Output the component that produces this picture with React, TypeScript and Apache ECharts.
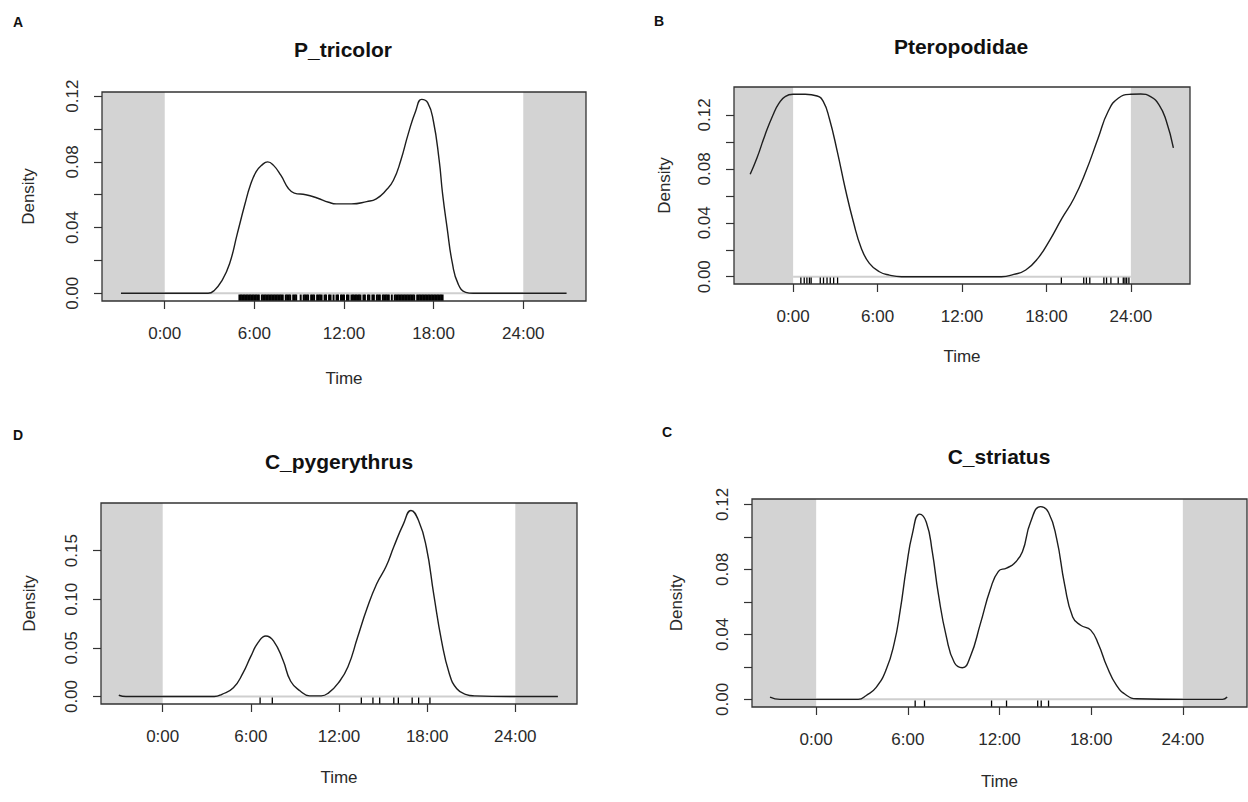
import React, { useEffect, useRef } from "react";
import * as echarts from "echarts";

const FONT = '"Liberation Sans", Arial, Helvetica, sans-serif';

// ---- data ----
const hourTicks = [0, 6, 12, 18, 24];
const nightBands = [[-12, 0], [24, 36]];
const baseline = [[0, 0], [24, 0]];

const aHours = [-2.93, -1, 1, 2.9, 3.3, 3.83, 4.34, 4.85, 5.36, 5.74, 6.12, 6.5, 6.89, 7.27, 7.78, 8.29, 8.67, 9.44, 10.2, 10.97, 11.48, 12.5, 13.52, 14.16, 14.8, 15.3, 15.8, 16.3, 16.8, 17.2, 17.6, 17.98, 18.37, 18.6, 18.9, 19.26, 19.64, 20.15, 20.66, 23, 26.9];
const aDensity = [0, 0, 0, 0, 0.0016, 0.0077, 0.018, 0.036, 0.054, 0.066, 0.074, 0.078, 0.080, 0.078, 0.0717, 0.0636, 0.061, 0.060, 0.058, 0.0554, 0.0544, 0.0544, 0.0558, 0.0575, 0.0625, 0.0686, 0.0808, 0.097, 0.111, 0.118, 0.116, 0.105, 0.081, 0.0605, 0.040, 0.018, 0.0057, 0.0006, 0, 0, 0];
const aRug = [5.0, 5.1, 5.2, 5.3, 5.4, 5.5, 5.6, 5.7, 5.8, 5.9, 6.0, 6.1, 6.2, 6.3, 6.5, 6.6, 6.7, 6.8, 6.9, 7.0, 7.1, 7.2, 7.3, 7.4, 7.5, 7.6, 7.7, 7.8, 7.9, 8.1, 8.2, 8.3, 8.4, 8.6, 8.7, 8.8, 9.1, 9.3, 9.4, 9.5, 9.6, 9.8, 9.9, 10.0, 10.2, 10.3, 10.4, 10.5, 10.7, 10.8, 11.0, 11.1, 11.3, 11.5, 11.6, 11.8, 11.9, 12.0, 12.2, 12.3, 12.5, 12.6, 12.7, 12.8, 12.9, 13.0, 13.1, 13.3, 13.4, 13.6, 13.7, 13.9, 14.0, 14.2, 14.3, 14.4, 14.6, 14.7, 14.8, 14.9, 15.0, 15.2, 15.4, 15.5, 15.6, 15.7, 15.8, 15.9, 16.0, 16.1, 16.2, 16.3, 16.4, 16.5, 16.6, 16.7, 16.9, 17.0, 17.1, 17.2, 17.3, 17.4, 17.5, 17.6, 17.7, 17.8, 17.9, 18.0, 18.1, 18.2, 18.3, 18.4, 18.5, 18.6];

const bHours = [-3.05, -2.57, -2.0, -1.43, -1.0, -0.57, 0, 0.86, 1.71, 2.14, 2.57, 3.14, 3.7, 4.28, 4.85, 5.42, 6.13, 6.84, 7.7, 10, 12, 14.8, 15.68, 16.53, 17.39, 18.24, 19.1, 19.95, 20.8, 21.67, 22.38, 23.1, 24, 24.7, 25.4, 26.0, 26.5, 27.02];
const bDensity = [0.076, 0.088, 0.105, 0.12, 0.1287, 0.1336, 0.1353, 0.1353, 0.134, 0.13, 0.1175, 0.0928, 0.0656, 0.0408, 0.021, 0.0099, 0.0037, 0.0012, 0, 0, 0, 0, 0.0017, 0.005, 0.0136, 0.0272, 0.0433, 0.058, 0.078, 0.1027, 0.1225, 0.1324, 0.1353, 0.1355, 0.1335, 0.1275, 0.116, 0.0955];
const bRug = [0.55, 0.79, 0.98, 1.16, 1.28, 1.93, 2.16, 2.41, 2.64, 2.88, 3.16, 19.06, 20.65, 20.84, 21.08, 22.08, 22.27, 22.58, 23.1, 23.46, 23.58, 23.7, 23.86];

const dHours = [-2.99, -2.5, 0, 3.51, 4.03, 4.81, 5.46, 5.98, 6.5, 7.02, 7.54, 8.19, 8.71, 9.36, 10.0, 10.79, 11.31, 11.96, 12.61, 13.26, 13.91, 14.56, 15.21, 15.73, 16.38, 16.9, 17.42, 17.94, 18.46, 18.98, 19.5, 20.02, 20.67, 21.19, 24, 26.9];
const dDensity = [0.0013, 0, 0, 0, 0.0023, 0.009, 0.024, 0.0407, 0.0557, 0.0623, 0.0573, 0.0373, 0.0157, 0.0057, 0.0007, 0.0007, 0.004, 0.014, 0.0307, 0.0607, 0.0907, 0.1157, 0.134, 0.154, 0.1773, 0.1913, 0.1807, 0.154, 0.104, 0.0573, 0.024, 0.008, 0.002, 0.0007, 0, 0];
const dRug = [6.63, 7.46, 13.52, 14.31, 14.77, 15.73, 16.04, 16.98, 17.42, 18.19];

const cHours = [-3.02, -2.36, 0, 2.75, 3.28, 3.93, 4.59, 5.11, 5.5, 5.9, 6.3, 6.77, 7.21, 7.6, 8.0, 8.52, 9.05, 9.57, 10.1, 10.75, 11.4, 11.93, 12.46, 12.98, 13.5, 14.03, 14.69, 15.21, 15.74, 16.26, 16.79, 17.31, 17.97, 18.49, 19.02, 19.67, 20.33, 20.98, 24, 26.6, 26.9];
const cDensity = [0.0014, 0, 0, 0, 0.0024, 0.0074, 0.0185, 0.0346, 0.0547, 0.0808, 0.102, 0.114, 0.109, 0.0909, 0.0647, 0.0386, 0.0225, 0.0195, 0.0265, 0.0466, 0.0677, 0.0788, 0.0808, 0.0838, 0.0909, 0.109, 0.1186, 0.115, 0.0989, 0.0708, 0.0507, 0.0456, 0.0426, 0.0336, 0.0205, 0.0084, 0.0024, 0.0004, 0, 0, 0.0014];
const cRug = [6.48, 7.09, 11.48, 12.46, 14.5, 14.73, 15.21];

const ticks012 = [0, 0.02, 0.04, 0.06, 0.08, 0.1, 0.12];
const labels012 = [0, 0.04, 0.08, 0.12];
const ticks015 = [0, 0.05, 0.1, 0.15];

// ---- layout ----
const panels = [
  { letter: "A", title: "P_tricolor", hours: aHours, dens: aDensity, rug: aRug, rugWidth: 2,
    grid: { left: 102, top: 92, width: 484, height: 209 }, yMin: -0.0047, yMax: 0.1225,
    yTicks: ticks012, yLabels: labels012, letterPos: [18, 22], titlePos: [343, 49], yGap: 65, xGap: 69 },
  { letter: "B", title: "Pteropodidae", hours: bHours, dens: bDensity, rug: bRug, rugWidth: 1.3,
    grid: { left: 734, top: 87, width: 456, height: 197 }, yMin: -0.0054, yMax: 0.1407,
    yTicks: ticks012, yLabels: labels012, letterPos: [659, 21], titlePos: [961, 46], yGap: 61, xGap: 64 },
  { letter: "D", title: "C_pygerythrus", hours: dHours, dens: dDensity, rug: dRug, rugWidth: 1.3,
    grid: { left: 101, top: 503, width: 476, height: 201 }, yMin: -0.0077, yMax: 0.199,
    yTicks: ticks015, yLabels: ticks015, letterPos: [18, 435], titlePos: [339, 461], yGap: 63, xGap: 65 },
  { letter: "C", title: "C_striatus", hours: cHours, dens: cDensity, rug: cRug, rugWidth: 1.3,
    grid: { left: 752, top: 499, width: 495, height: 208 }, yMin: -0.0047, yMax: 0.1233,
    yTicks: ticks012, yLabels: labels012, letterPos: [667, 432], titlePos: [999, 456], yGap: 67, xGap: 66 },
];

const TEXT = "#2a2a2a";

function buildOption() {
  const grid: any[] = [];
  const xAxis: any[] = [];
  const yAxis: any[] = [];
  const series: any[] = [];
  const graphic: any[] = [];

  panels.forEach((p, i) => {
    grid.push({ ...p.grid, containLabel: false });
    xAxis.push({
      type: "value", gridIndex: i, min: -4.2, max: 28.2,
      name: "Time", nameLocation: "middle", nameGap: p.xGap,
      nameTextStyle: { fontFamily: FONT, fontSize: 17, color: TEXT },
      axisLine: { show: false, onZero: false },
      axisTick: { show: true, customValues: hourTicks, length: 8, lineStyle: { color: "#333", width: 1.2 } },
      axisLabel: { customValues: hourTicks, formatter: (v: number) => `${v}:00`, fontFamily: FONT, fontSize: 17, color: TEXT, margin: 24 },
      splitLine: { show: false },
    });
    yAxis.push({
      type: "value", gridIndex: i, min: p.yMin, max: p.yMax,
      name: "Density", nameLocation: "middle", nameGap: p.yGap,
      nameTextStyle: { fontFamily: FONT, fontSize: 17, color: TEXT },
      axisLine: { show: false, onZero: false },
      axisTick: { show: true, customValues: p.yTicks, length: 8, lineStyle: { color: "#333", width: 1.2 } },
      axisLabel: { customValues: p.yLabels, rotate: 90, formatter: (v: number) => v.toFixed(2), fontFamily: FONT, fontSize: 17, color: TEXT, margin: 21 },
      splitLine: { show: false },
    });

    series.push({
      type: "custom", xAxisIndex: i, yAxisIndex: i, silent: true, z: 1,
      data: nightBands,
      renderItem: (params: any, api: any) => {
        const cs = params.coordSys;
        const a = api.coord([api.value(0), 0])[0];
        const b = api.coord([api.value(1), 0])[0];
        const x0 = Math.max(cs.x, Math.min(a, b));
        const x1 = Math.min(cs.x + cs.width, Math.max(a, b));
        return { type: "rect", shape: { x: x0, y: cs.y, width: Math.max(0, x1 - x0), height: cs.height }, style: { fill: "#d3d3d3" } };
      },
    });
    series.push({
      type: "line", xAxisIndex: i, yAxisIndex: i, silent: true, z: 3,
      data: baseline, showSymbol: false, lineStyle: { color: "#cfcfcf", width: 2 },
    });
    series.push({
      type: "line", xAxisIndex: i, yAxisIndex: i, silent: true, z: 5,
      data: p.hours.map((h, k) => [h, p.dens[k]]),
      showSymbol: false, smooth: 0.5,
      lineStyle: { color: "#1e1e1e", width: 1.4 },
    });
    series.push({
      type: "custom", xAxisIndex: i, yAxisIndex: i, silent: true, z: 6,
      data: p.rug.map((t) => [t, 0]),
      renderItem: (params: any, api: any) => {
        const cs = params.coordSys;
        const x = api.coord([api.value(0), 0])[0];
        const bottom = cs.y + cs.height;
        return { type: "line", shape: { x1: x, y1: bottom, x2: x, y2: bottom - 6.5 }, style: { stroke: "#000", lineWidth: p.rugWidth } };
      },
    });
    series.push({
      type: "custom", xAxisIndex: i, yAxisIndex: i, silent: true, z: 10,
      data: [[0, 0]],
      renderItem: (params: any) => {
        const cs = params.coordSys;
        return { type: "rect", shape: { x: cs.x, y: cs.y, width: cs.width, height: cs.height }, style: { fill: "none", stroke: "#333", lineWidth: 1.3 } };
      },
    });

    graphic.push({
      type: "text", x: p.titlePos[0], y: p.titlePos[1],
      style: { text: p.title, font: `bold 21px ${FONT}`, fill: "#111", textAlign: "center", textVerticalAlign: "middle" },
    });
    graphic.push({
      type: "text", x: p.letterPos[0], y: p.letterPos[1],
      style: { text: p.letter, font: `bold 14px ${FONT}`, fill: "#111", textAlign: "center", textVerticalAlign: "middle" },
    });
  });

  return { animation: false, backgroundColor: "#fff", grid, xAxis, yAxis, series, graphic };
}

export default function App() {
  const ref = useRef<HTMLDivElement>(null);
  useEffect(() => {
    const chart = echarts.init(ref.current!, null, { renderer: "svg" });
    chart.setOption(buildOption() as any);
    return () => chart.dispose();
  }, []);
  return <div ref={ref} style={{ position: "absolute", left: 0, top: 0, width: 1248, height: 802, background: "#fff" }} />;
}
